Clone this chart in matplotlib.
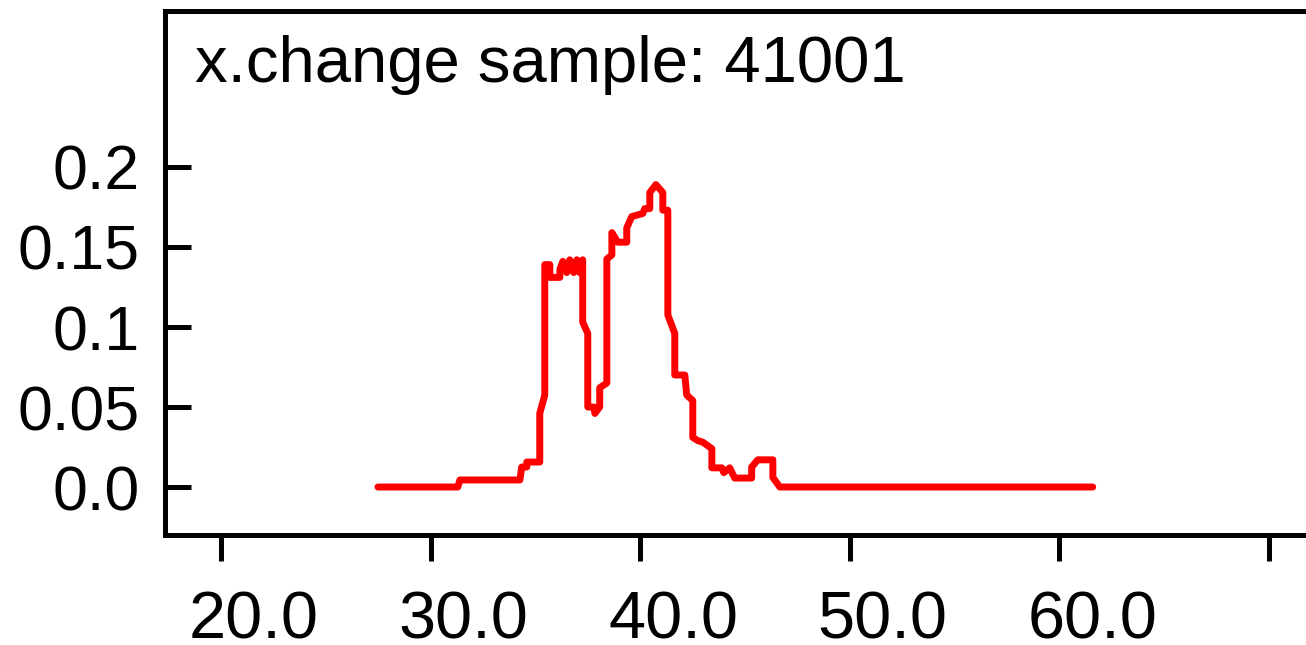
import matplotlib
matplotlib.use("Agg")
from matplotlib import pyplot as plt
from matplotlib.transforms import ScaledTranslation

# step-like curve
xs = [27.49, 31.30, 31.40, 34.26, 34.35, 34.59, 34.59, 35.21, 35.21, 35.45,
      35.45, 35.69, 35.69, 36.17, 36.17, 36.31, 36.50, 36.64, 36.83, 36.98,
      37.12, 37.26, 37.26, 37.50, 37.50, 37.79, 37.84, 38.07, 38.07, 38.41,
      38.41, 38.65, 38.65, 38.93, 39.36, 39.36, 39.60, 40.13, 40.22, 40.46,
      40.46, 40.75, 41.08, 41.08, 41.32, 41.32, 41.65, 41.65, 42.13, 42.22,
      42.51, 42.51, 42.75, 42.99, 43.42, 43.42, 43.89, 43.99, 44.27, 44.51,
      45.32, 45.32, 45.61, 46.33, 46.33, 46.66, 61.59]
ys = [0.0, 0.0, 0.0044, 0.0044, 0.0125, 0.0125, 0.0156, 0.0156, 0.046, 0.0575,
      0.139, 0.139, 0.131, 0.131, 0.136, 0.141, 0.134, 0.142, 0.134, 0.142,
      0.134, 0.142, 0.103, 0.096, 0.05, 0.05, 0.046, 0.05, 0.062, 0.065,
      0.1425, 0.145, 0.159, 0.153, 0.153, 0.162, 0.169, 0.171, 0.174, 0.174,
      0.184, 0.189, 0.184, 0.173, 0.173, 0.1075, 0.096, 0.07, 0.07, 0.0575,
      0.054, 0.031, 0.029, 0.028, 0.024, 0.012, 0.012, 0.009, 0.012, 0.0056,
      0.0056, 0.0125, 0.017, 0.017, 0.006, 0.0, 0.0]

xticks = [20, 30, 40, 50, 60, 70]
xlabels = ["20.0", "30.0", "40.0", "50.0", "60.0", ""]
yticks = [0.0, 0.05, 0.1, 0.15, 0.2]
ylabels = ["0.0", "0.05", "0.1", "0.15", "0.2"]

plt.rcParams['font.family'] = ['Liberation Sans', 'DejaVu Sans']

fig = plt.figure(figsize=(13.06, 6.45), dpi=100)
ax = fig.add_axes([0.1263, 0.1705, 0.8775, 0.8125])

ax.plot(xs, ys, color='red', lw=5, solid_joinstyle='round',
        solid_capstyle='round')

ax.set_xlim(17.33, 72)
ax.set_ylim(-0.03, 0.2975)

ax.set_xticks(xticks)
ax.set_xticklabels(xlabels)
ax.set_yticks(yticks)
ax.set_yticklabels(ylabels)

for s in ax.spines.values():
    s.set_linewidth(3.6)
ax.tick_params(axis='x', direction='out', length=19, width=3.6,
               labelsize=48, pad=21)
ax.tick_params(axis='y', direction='in', length=19, width=3.6,
               labelsize=45, pad=18)

# x labels sit a bit right of their ticks in the reference
shift = ScaledTranslation(0.33, 0, fig.dpi_scale_trans)
for lab in ax.get_xticklabels():
    lab.set_transform(lab.get_transform() + shift)

ax.text(0.026, 0.8645, "x.change sample: 41001", transform=ax.transAxes,
        fontsize=47, ha='left', va='baseline')

fig.savefig("out.png", dpi=100)
